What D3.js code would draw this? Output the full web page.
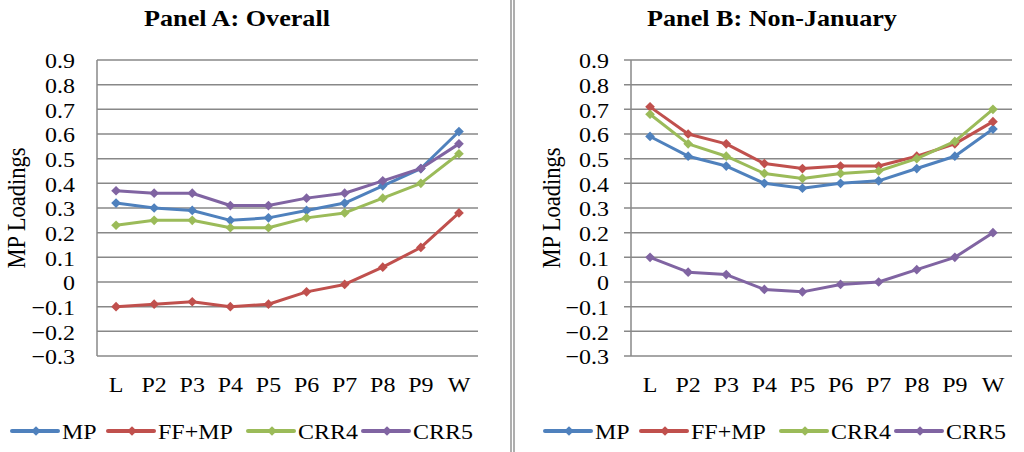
<!DOCTYPE html>
<html><head><meta charset="utf-8">
<script src="https://cdn.jsdelivr.net/npm/d3@7"></script>
<style>body{margin:0;background:#fff}svg{display:block}text{font-family:"Liberation Serif","Times New Roman",serif;fill:#000}</style>
</head><body><svg id="c" width="1024" height="452"></svg>
<script>
const categories = ["L","P2","P3","P4","P5","P6","P7","P8","P9","W"];
const seriesNames = ["MP","FF+MP","CRR4","CRR5"];
const seriesColors = ["#4F81BD","#C0504D","#9BBB59","#8064A2"];
const yTicks = [0.9,0.8,0.7,0.6,0.5,0.4,0.3,0.2,0.1,0,-0.1,-0.2,-0.3];
const titles = ["Panel A: Overall","Panel B: Non-January"];

const panelA_MP    = [0.32,0.30,0.29,0.25,0.26,0.29,0.32,0.39,0.46,0.61];
const panelA_FFMP  = [-0.10,-0.09,-0.08,-0.10,-0.09,-0.04,-0.01,0.06,0.14,0.28];
const panelA_CRR4  = [0.23,0.25,0.25,0.22,0.22,0.26,0.28,0.34,0.40,0.52];
const panelA_CRR5  = [0.37,0.36,0.36,0.31,0.31,0.34,0.36,0.41,0.46,0.56];

const panelB_MP    = [0.59,0.51,0.47,0.40,0.38,0.40,0.41,0.46,0.51,0.62];
const panelB_FFMP  = [0.71,0.60,0.56,0.48,0.46,0.47,0.47,0.51,0.56,0.65];
const panelB_CRR4  = [0.68,0.56,0.51,0.44,0.42,0.44,0.45,0.50,0.57,0.70];
const panelB_CRR5  = [0.10,0.04,0.03,-0.03,-0.04,-0.01,0.00,0.05,0.10,0.20];

const panels = [
  {title: titles[0], series: [panelA_MP,panelA_FFMP,panelA_CRR4,panelA_CRR5],
   x0: 97, x1: 478, titleX: 237, labelX: 25, tickOut: 0, legendX: 12},
  {title: titles[1], series: [panelB_MP,panelB_FFMP,panelB_CRR4,panelB_CRR5],
   x0: 631, x1: 1012, titleX: 772, labelX: 560, tickOut: 7, legendX: 545}
];

const svg = d3.select("#c");
const yTop = 60, yBot = 356;
const SX = 1.09; // horizontal stretch of the glyphs in the reference

function stretchText(sel, x, y) {
  // place a text at (x,y) with horizontal stretch
  return sel.attr("transform", `translate(${x},${y}) scale(${SX},1)`).attr("x",0).attr("y",0);
}

// separator double line
[511, 514].forEach(x => svg.append("line").attr("x1",x).attr("x2",x).attr("y1",0).attr("y2",452)
  .attr("stroke","#9a9a9a").attr("stroke-width",1.6));

const diamond = d3.symbol().type(d3.symbolDiamond2 || d3.symbolDiamond).size(60);

panels.forEach(p => {
  const g = svg.append("g");
  const x = d3.scaleBand().domain(categories).range([p.x0, p.x1]);
  const y = d3.scaleLinear().domain([-0.3, 0.9]).range([yBot, yTop]);

  // title
  stretchText(g.append("text"), p.titleX, 26).attr("text-anchor","middle")
    .style("font-size","24px").style("font-weight","bold").text(p.title);

  // gridlines
  g.append("g").selectAll("line").data(yTicks).join("line")
    .attr("x1", p.x0 - p.tickOut).attr("x2", p.x1)
    .attr("y1", d => y(d)).attr("y2", d => y(d))
    .attr("stroke","#888888").attr("stroke-width",1.5);

  // y axis line
  g.append("line").attr("x1",p.x0).attr("x2",p.x0).attr("y1",y(0.9)).attr("y2",y(-0.3))
    .attr("stroke","#888888").attr("stroke-width",1.5);

  // y tick labels
  const yAxis = d3.axisLeft(y).tickValues(yTicks).tickSize(0).tickPadding(0)
    .tickFormat(d => d === 0 ? "0" : d3.format(".1f")(d));
  const ya = g.append("g").attr("transform", `translate(${p.x0 - 22},0)`).call(yAxis);
  ya.select(".domain").remove();
  ya.selectAll("text").attr("x",0).attr("transform",`scale(${SX},1)`)
    .style("font-size","22px").style("font-family",'"Liberation Serif",serif').attr("dy","0.35em");

  // x tick labels
  const xAxis = d3.axisBottom(x).tickSize(0).tickPadding(0);
  const xa = g.append("g").attr("transform", `translate(0,${yBot + 20})`).call(xAxis);
  xa.select(".domain").remove();
  xa.selectAll("text").attr("y",0).attr("transform",`scale(${SX},1)`)
    .style("font-size","22px").style("font-family",'"Liberation Serif",serif').attr("dy","0.71em");

  // y label
  g.append("text").attr("transform", `translate(${p.labelX},${y(0.3)}) rotate(-90) scale(1,${SX})`)
    .attr("text-anchor","middle").style("font-size","22.5px").text("MP Loadings");

  // series
  const line = d3.line().x((d,i) => x(categories[i]) + x.bandwidth()/2).y(d => y(d));
  p.series.forEach((s, si) => {
    g.append("path").datum(s).attr("d", line).attr("fill","none")
      .attr("stroke", seriesColors[si]).attr("stroke-width",3).attr("stroke-linejoin","round");
    g.append("g").selectAll("path").data(s).join("path")
      .attr("d", diamond)
      .attr("transform",(d,i) => `translate(${x(categories[i]) + x.bandwidth()/2},${y(d)})`)
      .attr("fill", seriesColors[si]);
  });

  // legend
  const legendOffsets = [0, 96, 236, 351];
  seriesNames.forEach((n, i) => {
    const lx = p.legendX + legendOffsets[i];
    const ly = 431;
    g.append("line").attr("x1", lx).attr("x2", lx + 46).attr("y1", ly).attr("y2", ly)
      .attr("stroke", seriesColors[i]).attr("stroke-width",4).attr("stroke-linecap","round");
    g.append("path").attr("d", diamond).attr("transform", `translate(${lx + 24},${ly})`).attr("fill", seriesColors[i]);
    stretchText(g.append("text"), lx + 50, ly + 8).style("font-size","22px").text(n);
  });
});
</script></body></html>
